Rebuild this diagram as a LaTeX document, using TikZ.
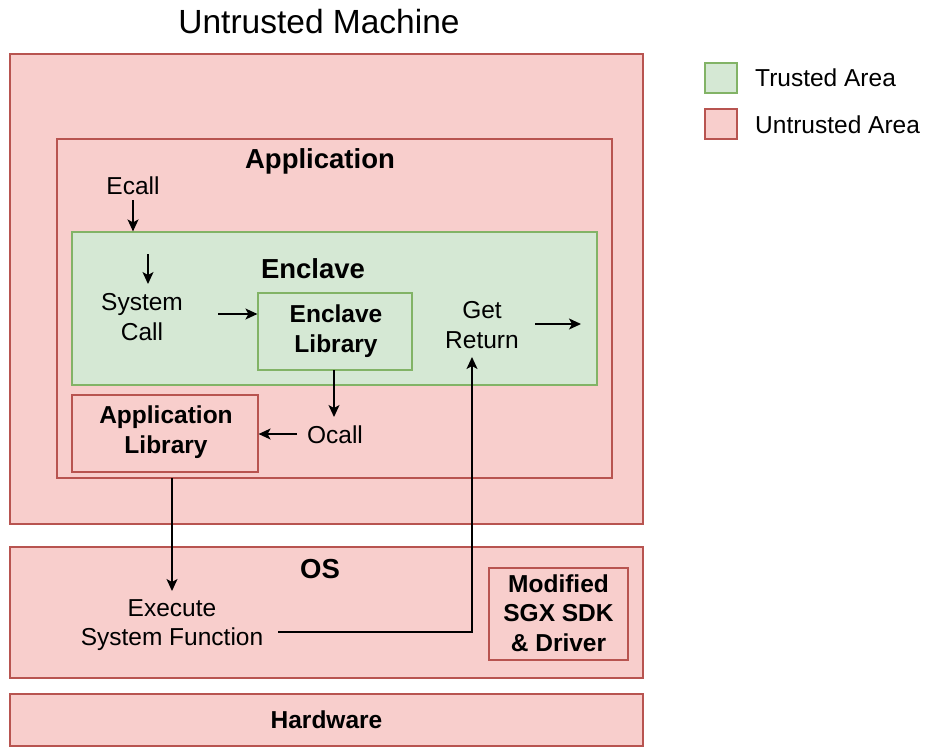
\documentclass[tikz,border=0pt]{standalone}
\usepackage{fontspec}
\setmainfont{Liberation Sans}
\usetikzlibrary{arrows.meta}
\definecolor{redfill}{HTML}{F8CECC}
\definecolor{redline}{HTML}{B85450}
\definecolor{greenfill}{HTML}{D5E8D4}
\definecolor{greenline}{HTML}{82B366}
\tikzset{
  redbox/.style={draw=redline, fill=redfill, line width=1.2pt, inner sep=0pt},
  greenbox/.style={draw=greenline, fill=greenfill, line width=1.2pt, inner sep=0pt},
  lbl/.style={font=\fontsize{24.5}{29.5}\selectfont, align=center, inner sep=0pt},
  blbl/.style={font=\fontsize{24.5}{29.5}\selectfont\bfseries, align=center, inner sep=0pt},
  hlbl/.style={font=\fontsize{27.5}{31}\selectfont\bfseries, align=center, inner sep=0pt},
  arr/.style={-{Stealth[length=12pt,width=11pt,inset=3pt]}, line width=1.4pt, black},
  ln/.style={line width=1.4pt, black}
}
\begin{document}
\begin{tikzpicture}[x=1pt,y=-1pt]
\useasboundingbox (0,0) rectangle (932,748);
% title
\node[font=\fontsize{33.5}{38}\selectfont, inner sep=0pt] (title) at (319,22) {Untrusted Machine};
% machine
\node[redbox, minimum width=633pt, minimum height=470pt] (machine) at (326.5,289) {};
\node[redbox, minimum width=555pt, minimum height=339pt] (app) at (334.5,308.5) {};
\node[hlbl] (apptitle) at (320,161) {Application};
\node[greenbox, minimum width=525pt, minimum height=153pt] (enclave) at (334.5,308.5) {};
\node[hlbl] (enctitle) at (313,269) {Enclave};
\node[greenbox, minimum width=154pt, minimum height=77pt] (enclib) at (335,331.5) {};
\node[blbl] (enclibt) at (336,331) {Enclave\\Library};
\node[redbox, minimum width=186pt, minimum height=77pt] (applib) at (165,433.5) {};
\node[blbl] (applibt) at (166,432) {Application\\Library};
% OS
\node[redbox, minimum width=633pt, minimum height=131pt] (os) at (326.5,612.5) {};
\node[hlbl] (ostitle) at (320,569) {OS};
\node[redbox, minimum width=139pt, minimum height=92pt] (sgx) at (558.5,614) {};
\node[blbl] (sgxt) at (558.5,613) {Modified\\SGX SDK\\\& Driver};
% hardware
\node[redbox, minimum width=633pt, minimum height=52pt] (hw) at (326.5,720) {};
\node[blbl] (hwt) at (326.5,720) {Hardware};
% labels
\node[lbl] (ecall) at (133,186) {Ecall};
\node[lbl] (syscall) at (142,317) {System\\Call};
\node[lbl] (getret) at (482,325) {Get\\Return};
\node[lbl] (ocall) at (335,435) {Ocall};
\node[lbl] (exec) at (172,625) {Execute\\System Function};
% coordinates
\coordinate (e0) at (133,200);
\coordinate (s0) at (148,254);
\coordinate (s1) at (148,284);
\coordinate (sc) at (218,314);
\coordinate (gr) at (535,324);
\coordinate (grend) at (581,324);
\coordinate (ocl) at (297,434);
\coordinate (el) at (334,370);
\coordinate (elend) at (334,417);
\coordinate (al0) at (172,478);
\coordinate (al1) at (172,591);
\coordinate (ex0) at (278,632);
\coordinate (exc) at (472,632);
\coordinate (grin) at (472,357);
% arrows
\draw[arr] (e0) -- (e0 |- enclave.north);
\draw[arr] (s0) -- (s1);
\draw[arr] (sc) -- (sc -| enclib.west);
\draw[arr] (el) -- (elend);
\draw[arr] (ocl) -- (ocl -| applib.east);
\draw[arr] (gr) -- (grend);
\draw[arr] (al0) -- (al1);
\draw[arr] (ex0) -- (exc) -- (grin);
% legend
\node[greenbox, minimum width=32pt, minimum height=30pt] (lg) at (721,78) {};
\node[lbl, anchor=west] (lgt) at (755,78) {Trusted Area};
\node[redbox, minimum width=32pt, minimum height=30pt] (lr) at (721,124) {};
\node[lbl, anchor=west] (lrt) at (755,125) {Untrusted Area};
\end{tikzpicture}
\end{document}
